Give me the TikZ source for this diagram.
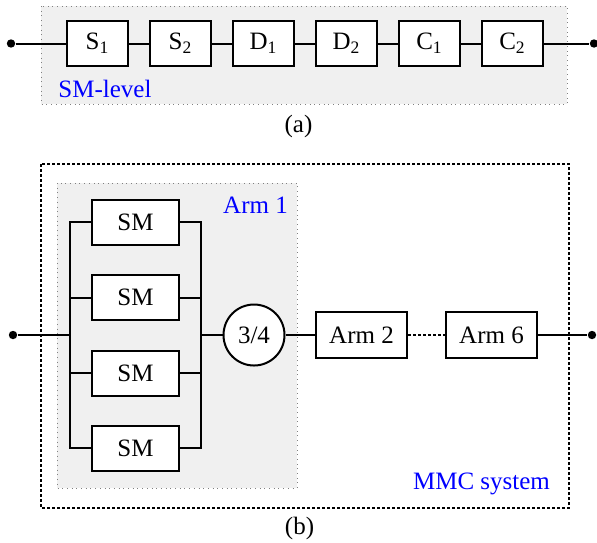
\documentclass[tikz,border=0pt]{standalone}
\usepackage{fontspec}
\setmainfont{Liberation Serif}
\usetikzlibrary{positioning}

\begin{document}
\begin{tikzpicture}[x=0.5pt,y=-0.5pt]
\tikzset{every node/.style={font=\fontsize{12.5}{14}\selectfont}}
\tikzset{unit/.style={draw,line width=1pt,fill=white,inner sep=0pt,minimum width=30.5pt,minimum height=22.5pt}}
\tikzset{smbox/.style={unit,minimum width=43.5pt}}
\tikzset{armbox/.style={unit,minimum width=45.5pt,minimum height=23pt}}
\tikzset{term/.style={circle,fill,inner sep=0pt,minimum size=4.2pt}}
\tikzset{area/.style={draw=gray,dotted,line width=0.35pt,fill=black!6}}
\tikzset{tag/.style={text=blue}}
\tikzset{wire/.style={line width=1pt}}
\useasboundingbox (0,0) rectangle (597,542);
% (a)
\draw[area] (41,6) rectangle (567,104);
\node[tag] (smlevel) at (105,89) {SM-level};
\node[term] (ain) at (11,43.5) {};
\node[term] (aout) at (594,43.5) {};
\node[unit] (s1) at (97.5,43.5) {S\textsubscript{1}};
\node[unit] (s2) at (180.5,43.5) {S\textsubscript{2}};
\node[unit] (d1) at (263.5,43.5) {D\textsubscript{1}};
\node[unit] (d2) at (346.5,43.5) {D\textsubscript{2}};
\node[unit] (c1) at (429.5,43.5) {C\textsubscript{1}};
\node[unit] (c2) at (512.5,43.5) {C\textsubscript{2}};
\draw[wire] (ain) -- (s1) -- (s2) -- (d1) -- (d2) -- (c1) -- (c2) -- (aout);
\node (capa) at (298.5,126.5) {(a)};
% (b)
\draw[line width=1pt,dash pattern=on 1.5pt off 1pt] (41,164) rectangle (569,508);
\draw[area] (57,183) rectangle (297,488);
\node[tag] (arm1) at (255.5,205) {Arm 1};
\node[tag] (mmc) at (481.5,484) {MMC system};
\node[smbox] (sm1) at (135.5,222) {SM};
\node[smbox] (sm2) at (135.5,297.5) {SM};
\node[smbox] (sm3) at (135.5,373) {SM};
\node[smbox] (sm4) at (135.5,448) {SM};
\coordinate (busl) at (70,335);
\coordinate (busr) at (201,335);
\foreach \i in {1,...,4} {
  \draw[wire] (sm\i.west) -| (busl);
  \draw[wire] (sm\i.east) -| (busr);
}
\node[term] (bin) at (13,335) {};
\node[term] (bout) at (592,335) {};
\node[draw,circle,line width=1pt,fill=white,inner sep=0pt,minimum size=30.5pt] (vote) at (254,335) {3/4};
\node[armbox] (arm2) at (361.5,335) {Arm 2};
\node[armbox] (arm6) at (491.5,335) {Arm 6};
\draw[wire] (bin) -- (busl);
\draw[wire] (busr) -- (vote) -- (arm2);
\draw[wire,dash pattern=on 1.5pt off 1pt] (arm2) -- (arm6);
\draw[wire] (arm6) -- (bout);
\node (capb) at (299.5,528) {(b)};
\end{tikzpicture}
\end{document}
